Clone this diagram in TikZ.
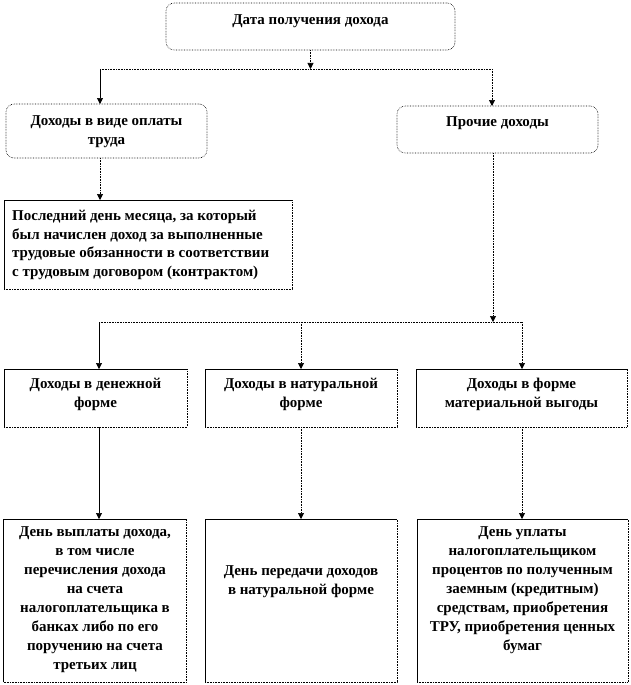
\documentclass[tikz,border=0pt]{standalone}
\usepackage{fontspec}
\setmainfont{Liberation Serif}
\usetikzlibrary{arrows.meta, positioning}

\begin{document}
\begin{tikzpicture}[
    x=1pt, y=-1pt,
    font=\bfseries\fontsize{15}{19}\selectfont,
    rbox/.style={rectangle, rounded corners=8pt, draw=black, densely dotted, line width=0.6pt,
      inner sep=0pt, outer sep=0pt},
    fbox/.style={rectangle, draw=black, densely dotted, line width=0.6pt, inner sep=0pt, outer sep=0pt},
    txt/.style={align=center, inner sep=0pt},
    arrow/.style={-{Triangle[length=6pt, width=6pt]}, line width=0.6pt},
    dotarrow/.style={arrow, densely dotted},
    link/.style={line width=0.6pt, densely dotted},
  ]
  \useasboundingbox (0,0) rectangle (630,685);

  % top level
  \node[rbox, minimum width=289pt, minimum height=47pt,
    label={[txt, below=11pt]north:{Дата получения дохода}}] (date) at (310.5,26.5) {};

  \node[rbox, minimum width=201pt, minimum height=54pt,
    label={[txt, below=11pt]north:{Доходы в виде оплаты\\труда}}] (labour) at (106.5,131) {};
  \node[rbox, minimum width=201pt, minimum height=47pt,
    label={[txt, below=10pt]north:{Прочие доходы}}] (other) at (497.5,129.5) {};

  \node[fbox, minimum width=288pt, minimum height=89pt,
    label={[txt, align=left, font=\bfseries\fontsize{15}{18.5}\selectfont,
      anchor=north west, xshift=8pt, yshift=-10pt]north west:{Последний день месяца, за который\\был начислен доход за выполненные\\трудовые обязанности в соответствии\\с трудовым договором (контрактом)}}] (lastday) at (148,244.5) {};

  % second level
  \node[fbox, minimum width=183pt, minimum height=58pt,
    label={[txt, below=9pt]north:{Доходы в денежной\\форме}}] (money) at (95.5,398) {};
  \node[fbox, minimum width=192pt, minimum height=58pt,
    label={[txt, below=9pt]north:{Доходы в натуральной\\форме}}] (kind) at (301,398) {};
  \node[fbox, minimum width=211pt, minimum height=58pt,
    label={[txt, below=9pt]north:{Доходы в форме\\материальной выгоды}}] (benefit) at (521.5,398) {};

  % dates
  \node[fbox, minimum width=183pt, minimum height=163pt,
    label={[txt, below=7pt]north:{День выплаты дохода,\\в том числе\\перечисления дохода\\на счета\\налогоплательщика в\\банках либо по его\\поручению на счета\\третьих лиц}}] (moneyday) at (95,600.5) {};
  \node[fbox, minimum width=192pt, minimum height=163pt,
    label={[txt, below=46pt]north:{День передачи доходов\\в натуральной форме}}] (kindday) at (301,600.5) {};
  \node[fbox, minimum width=211pt, minimum height=163pt,
    label={[txt, below=7pt]north:{День уплаты\\налогоплательщиком\\процентов по полученным\\заемным (кредитным)\\средствам, приобретения\\ТРУ, приобретения ценных\\бумаг}}] (benefitday) at (522.5,600.5) {};

  % solid top and left edges
  \foreach \n in {lastday, money, kind, benefit, moneyday, kindday, benefitday}
    \draw[line width=0.6pt] (\n.south west) |- (\n.north east);

  \coordinate (split) at (310.5,69);
  \coordinate (jl) at (100,69);
  \coordinate (jr) at (492,69);
  \draw[dotarrow] (date.south) -- (split);
  \draw[link] (jl) -- (jr);
  \draw[arrow] (jl) -- (labour.north -| jl);
  \draw[dotarrow] (jr) -- (other.north -| jr);
  \draw[dotarrow] (labour.south -| jl) -- (lastday.north -| jl);

  \coordinate (split2) at (493,322);
  \coordinate (ja) at (99,322);
  \coordinate (jb) at (301,322);
  \coordinate (jc) at (522,322);
  \draw[dotarrow] (other.south -| split2) -- (split2);
  \draw[link] (ja) -- (jc);
  \draw[arrow] (ja) -- (money.north -| ja);
  \draw[dotarrow] (jb) -- (kind.north -| jb);
  \draw[dotarrow] (jc) -- (benefit.north -| jc);

  \draw[arrow] (money.south -| ja) -- (moneyday.north -| ja);
  \draw[dotarrow] (kind.south -| jb) -- (kindday.north -| jb);
  \draw[dotarrow] (benefit.south -| jc) -- (benefitday.north -| jc);
\end{tikzpicture}
\end{document}
